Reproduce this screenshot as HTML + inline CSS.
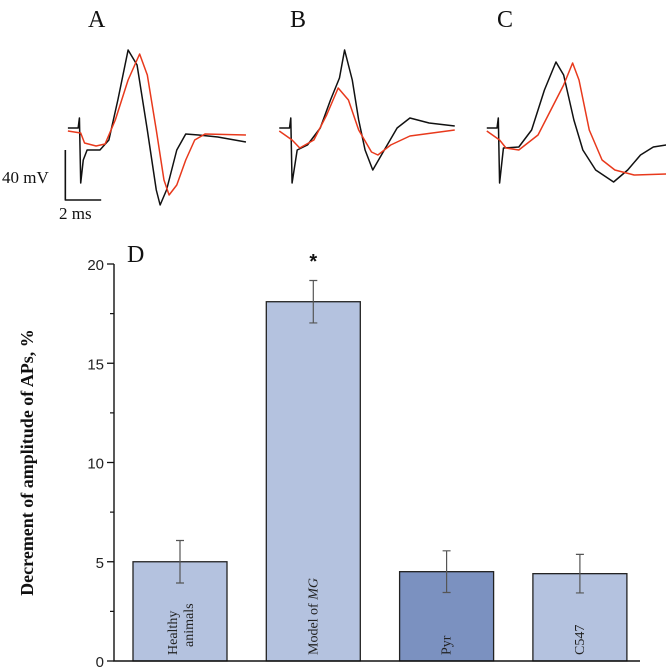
<!DOCTYPE html>
<html><head><meta charset="utf-8"><style>
html,body{margin:0;padding:0;background:#fff;width:666px;height:668px;overflow:hidden}
svg{display:block}
</style></head><body>
<svg id="fig" width="666" height="668" xmlns="http://www.w3.org/2000/svg">
<g>
<text x="88" y="27" font-family="Liberation Serif, serif" font-size="24" fill="#111">A</text>
<text x="290" y="27" font-family="Liberation Serif, serif" font-size="24" fill="#111">B</text>
<text x="497" y="27" font-family="Liberation Serif, serif" font-size="24" fill="#111">C</text>
<g transform="scale(1.281,1)" fill="none" stroke-width="1.5" stroke-linejoin="round">
<path vector-effect="non-scaling-stroke" stroke="#111" d="M53,128 L61,128 L62,118 L63,183 L65,160 L68,150 L78,150 L85,140 L92,100 L100,50 L107,65 L115,130 L122,190 L125,205 L130,190 L138,150 L145,134 L155,135 L170,137 L192,142"/>
<path vector-effect="non-scaling-stroke" stroke="#e8391c" d="M53,131 L63,133 L66,143 L75,146 L82,144 L90,120 L100,80 L109,54 L115,75 L122,130 L128,180 L132,195 L138,185 L145,160 L152,140 L160,134 L192,135"/>
<path vector-effect="non-scaling-stroke" stroke="#111" d="M218,128 L226,128 L227,118 L228,183 L232,150 L240,145 L250,128 L258,100 L265,78 L269,50 L275,80 L280,120 L285,150 L291,170 L300,150 L310,128 L320,118 L335,123 L355,126"/>
<path vector-effect="non-scaling-stroke" stroke="#e8391c" d="M218,131 L228,140 L234,148 L245,140 L255,115 L264,88 L272,100 L280,130 L290,152 L295,155 L305,145 L320,136 L355,130"/>
<path vector-effect="non-scaling-stroke" stroke="#111" d="M380,128 L388,128 L389,118 L390,183 L393,148 L405,147 L415,130 L425,90 L434,62 L440,75 L448,120 L455,150 L465,170 L479,182 L490,170 L500,155 L510,147 L520,145"/>
<path vector-effect="non-scaling-stroke" stroke="#e8391c" d="M380,131 L390,140 L395,148 L405,150 L420,135 L430,110 L440,85 L447,63 L452,80 L460,130 L470,160 L480,170 L495,175 L520,174"/>
<path vector-effect="non-scaling-stroke" stroke="#111" stroke-width="1.6" d="M51,150 L51,200 L79,200"/>
</g>
<text x="2" y="183" font-family="Liberation Serif, serif" font-size="17" fill="#111">40 mV</text>
<text x="59" y="219" font-family="Liberation Serif, serif" font-size="17" fill="#111">2 ms</text>
</g>
<g id="chart"></g>
</svg>
<script>
const categories = ["Healthy animals", "Model of MG", "Pyr", "C547"];
const values = [5.0, 18.1, 4.5, 4.4];
const errors = [1.07, 1.07, 1.05, 0.97];
const colors = ["#b4c2df", "#b4c2df", "#7b91c0", "#b4c2df"];
const yTicks = [0, 5, 10, 15, 20];
const yMinor = [2.5, 7.5, 12.5, 17.5];
const NS = "http://www.w3.org/2000/svg";
const g = document.getElementById("chart");
const x0 = 114, xEnd = 640, yBase = 661, yTop = 264;
function yS(v){ return yBase - (v/20)*(yBase - yTop); }
function xS(i){ return 133 + i*133.3; }
const bw = 94;
function mk(tag, attrs, parent){ const e=document.createElementNS(NS,tag); for(const k in attrs) e.setAttribute(k,attrs[k]); (parent||g).appendChild(e); return e; }
categories.forEach((c,i)=>{
  const r = mk("rect",{x:xS(i),y:yS(values[i]),width:bw,height:yBase-yS(values[i]),fill:colors[i],stroke:"#222","stroke-width":1.3});
  
  
  const cx = xS(i)+bw/2;
  const e = mk("path",{d:`M${cx},${yS(values[i]+errors[i])}V${yS(values[i]-errors[i])}M${cx-4},${yS(values[i]+errors[i])}h8M${cx-4},${yS(values[i]-errors[i])}h8`,stroke:"#555","stroke-width":1.2,fill:"none"});
  
  
});
const lbl = [["Healthy","animals"],["Model of <tspan font-style='italic'>MG</tspan>"],["Pyr"],["C547"]];
lbl.forEach((lines,i)=>{
  const cx = xS(i)+bw/2;
  const t = mk("text",{transform:`translate(${cx},${yBase-6}) rotate(-90)`,"font-family":"Liberation Serif, serif","font-size":14,fill:"#222"});
  
  
  if(lines.length===2){
    t.innerHTML = `<tspan x="0" dy="-3">${lines[0]}</tspan><tspan x="8" dy="16">${lines[1]}</tspan>`;
  } else {
    t.setAttribute("dy", 4);
    t.innerHTML = lines[0];
  }
});
const st = mk("text",{x:xS(1)+bw/2,y:yS(20)+4,"text-anchor":"middle","font-family":"Liberation Sans, sans-serif","font-size":20,"font-weight":"bold",fill:"#111"});
st.textContent="*";


const ax = mk("path",{d:`M${x0},${yTop}V${yBase}H${xEnd}`,stroke:"#111","stroke-width":1.4,fill:"none"});


yTicks.forEach(v=>{
  const tk = mk("line",{x1:x0-7,x2:x0,y1:yS(v),y2:yS(v),stroke:"#111","stroke-width":1.3});
  
  
  const t = mk("text",{x:x0-10,y:yS(v)+6,"text-anchor":"end","font-family":"Liberation Sans, sans-serif","font-size":15,fill:"#222"});
  t.textContent = v;
  
  
});
yMinor.forEach(v=>{
  const tk = mk("line",{x1:x0-4,x2:x0,y1:yS(v),y2:yS(v),stroke:"#111","stroke-width":1.2});
  
  
});
const yt = mk("text",{transform:`translate(33,${(yTop+yBase)/2}) rotate(-90)`,"text-anchor":"middle","font-family":"Liberation Serif, serif","font-size":18,"font-weight":"bold",fill:"#111"});
yt.textContent = "Decrement of amplitude of APs, %";


const d = mk("text",{x:127,y:262,"font-family":"Liberation Serif, serif","font-size":24,fill:"#111"});
d.textContent = "D";


</script>
</body></html>
